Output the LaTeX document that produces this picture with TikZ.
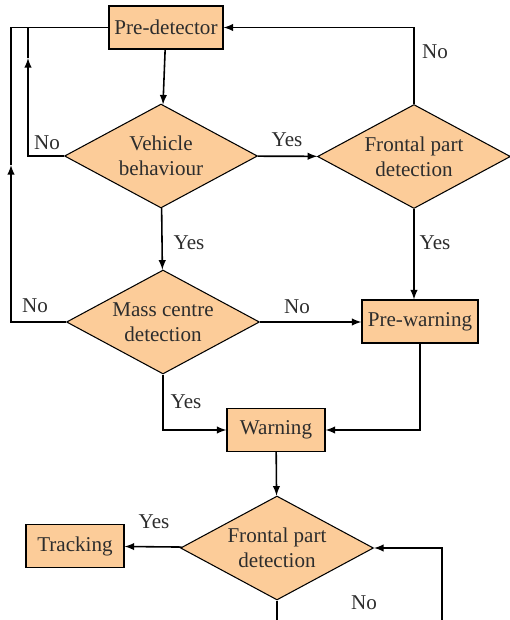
\documentclass[tikz,border=0pt]{standalone}
\usepackage{fontspec}
\setmainfont{Liberation Serif}
\usetikzlibrary{arrows,calc,shapes.geometric}
\definecolor{BoxClr}{RGB}{252,204,153}
\definecolor{TxtClr}{RGB}{45,45,45}

\begin{document}
\begin{tikzpicture}[x=0.02cm,y=-0.02cm,
  font=\fontsize{12}{14}\selectfont,text=TxtClr,
  box/.style={draw,fill=BoxClr,line width=0.6pt,minimum height=0.86cm,inner sep=2pt},
  decision/.style={diamond,aspect=1.85,draw,fill=BoxClr,line width=0.6pt,minimum width=3.86cm,minimum height=2.08cm,inner sep=0pt,align=center},
  conn/.style={line width=0.9pt,-latex},
  link/.style={line width=0.9pt}]
\useasboundingbox (0,0) rectangle (510,620);

\node[box,minimum width=2.28cm] (predet) at (166,27.5) {Pre-detector};
\node[decision] (vehicle) at (161,156) {Vehicle\\behaviour};
\node[decision] (frontA) at (414,156.5) {Frontal part\\detection};
\node[decision] (mass) at (163,322) {Mass centre\\detection};
\node[box,minimum width=2.32cm] (prewarn) at (420,321.5) {Pre-warning};
\node[box,minimum width=1.96cm] (warn) at (276,430) {Warning};
\node[decision] (frontB) at (277,548) {Frontal part\\detection};
\node[box,minimum width=1.96cm] (track) at (75,546) {Tracking};

% loops back to the pre-detector
\coordinate (innerUp) at (28,58);
\coordinate (outerUp) at (11,165);
\draw[conn] (vehicle.west) -| (innerUp);
\draw[link] (innerUp) |- (predet.west);
\draw[conn] (mass.west) -| (outerUp);
\draw[link] (outerUp) |- (predet.west);
\draw[conn] (frontA.north) |- (predet.east);

\draw[conn] (predet) -- (vehicle);
\draw[conn] (vehicle) -- (frontA);
\draw[conn] (vehicle) -- (mass);
\draw[conn] (frontA.south) -- (frontA.south |- prewarn.north);
\draw[conn] (mass.east) -- (mass.east -| prewarn.west);
\draw[conn] (mass.south) |- (warn.west);
\draw[conn] (prewarn.south) |- (warn.east);
\draw[conn] (warn) -- (frontB);
\draw[conn] (frontB) -- (track);

\coordinate (exitB) at (277,620);
\coordinate (backB) at (442,620);
\draw[link] (frontB.south) -- (exitB);
\draw[conn] (backB) |- (frontB.east);

% branch labels
\node (noA) at (47,143) {No};
\node (yesA) at (287,140) {Yes};
\node (noB) at (435,52) {No};
\node (yesB) at (189,243) {Yes};
\node (yesC) at (435,243) {Yes};
\node (noC) at (35,306) {No};
\node (noD) at (297,307) {No};
\node (yesD) at (186,402) {Yes};
\node (yesE) at (154,522) {Yes};
\node (noE) at (364,603) {No};

\end{tikzpicture}
\end{document}
